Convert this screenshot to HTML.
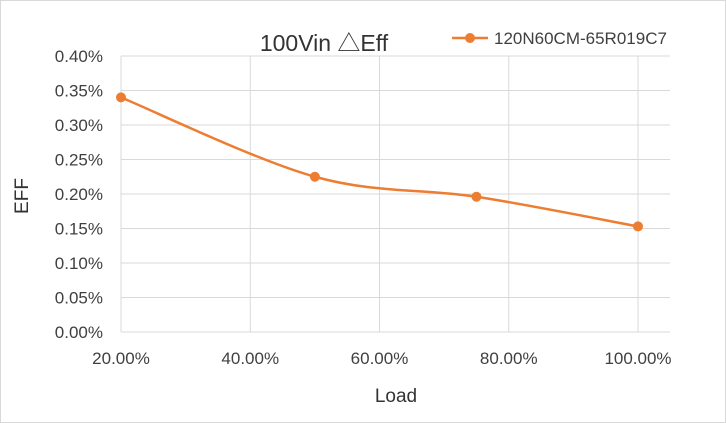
<!DOCTYPE html>
<html><head><meta charset="utf-8"><style>
body{margin:0;background:#fff}
svg{display:block;font-family:"Liberation Sans","Noto Sans CJK SC",sans-serif}
</style></head><body>
<svg id="chart" width="726" height="423">
<rect x="0.5" y="0.5" width="725" height="422" fill="#fff" stroke="#d9d9d9"/>
<g id="grid"></g><g id="axes"></g><g id="series"></g>
<text x="324" y="51" font-size="23" text-anchor="middle" fill="#333">100Vin △Eff</text>
<g>
<line x1="452" y1="38" x2="488" y2="38" stroke="#ed7d31" stroke-width="2.5"/>
<circle cx="470" cy="38" r="5" fill="#ed7d31"/>
<text x="494" y="44" font-size="17" fill="#404040">120N60CM-65R019C7</text>
</g>
<text x="396" y="402" font-size="19" text-anchor="middle" fill="#333">Load</text>
<text transform="translate(28,196) rotate(-90)" font-size="19" text-anchor="middle" fill="#333">EFF</text>
</svg>
<script>
const xCats=[0.2,0.5,0.75,1.0];
const yVals=[0.34,0.225,0.196,0.153];
const xTicks=[0.2,0.4,0.6,0.8,1.0];
const yTicks=[0,0.05,0.1,0.15,0.2,0.25,0.3,0.35,0.4];
const NS="http://www.w3.org/2000/svg";
const X=v=>121+(v-0.2)/0.8*517;
const Y=v=>332-v/0.4*276;
function mk(t,a,p){const e=document.createElementNS(NS,t);for(const k in a)e.setAttribute(k,a[k]);p.appendChild(e);return e;}
const grid=document.getElementById('grid'),axes=document.getElementById('axes'),ser=document.getElementById('series');
yTicks.forEach(t=>{
const l=mk('line',{x1:121,x2:670,y1:Y(t),y2:Y(t),stroke:'#d9d9d9'},grid);


const tx=mk('text',{x:103,y:Y(t)+6,'font-size':17,'text-anchor':'end',fill:'#404040'},axes);
tx.textContent=t.toFixed(2)+'%';


});
xTicks.forEach(t=>{
const l=mk('line',{x1:X(t),x2:X(t),y1:Y(0.4),y2:Y(0),stroke:'#d9d9d9'},grid);


const tx=mk('text',{x:X(t),y:364,'font-size':17,'text-anchor':'middle',fill:'#404040'},axes);
tx.textContent=(t*100).toFixed(2)+'%';


});
const P=xCats.map((c,i)=>[X(c),Y(yVals[i])]);
let d='M'+P[0][0]+','+P[0][1];
for(let i=0;i<P.length-1;i++){
const p0=P[Math.max(i-1,0)],p1=P[i],p2=P[i+1],p3=P[Math.min(i+2,P.length-1)];
const k=1/6;
d+=' C'+(p1[0]+(p2[0]-p0[0])*k)+','+(p1[1]+(p2[1]-p0[1])*k)+' '+(p2[0]-(p3[0]-p1[0])*k)+','+(p2[1]-(p3[1]-p1[1])*k)+' '+p2[0]+','+p2[1];
}
const line=mk('path',{d:d,fill:'none',stroke:'#ed7d31','stroke-width':2.5},ser);


P.forEach(p=>{
const c=mk('circle',{cx:p[0],cy:p[1],r:5,fill:'#ed7d31'},ser);


});
</script>
</body></html>
